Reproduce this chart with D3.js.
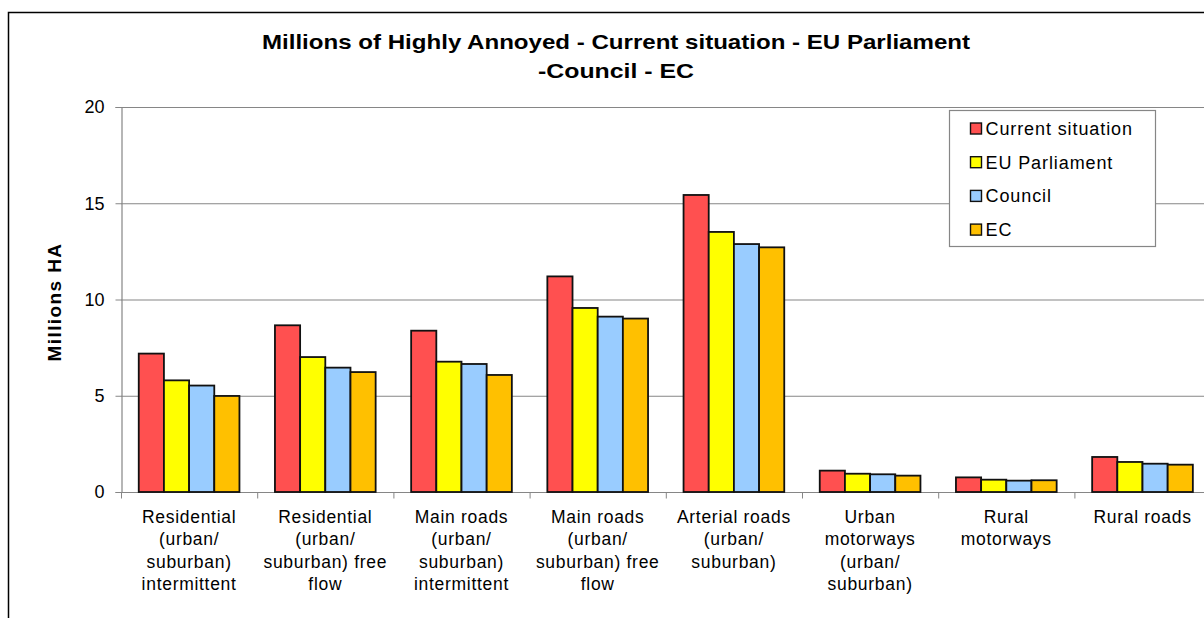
<!DOCTYPE html>
<html>
<head>
<meta charset="utf-8">
<script src="https://cdn.jsdelivr.net/npm/d3@7"></script>
<style>
body { margin: 0; background: #fff; }
svg { display: block; font-family: "Liberation Sans", Arial, sans-serif; }
</style>
</head>
<body>
<div id="target"></div>
<script>
var width = 1204,
    height = 618;

var categories = [
    ['Residential', '(urban/', 'suburban)', 'intermittent'],
    ['Residential', '(urban/', 'suburban) free', 'flow'],
    ['Main roads', '(urban/', 'suburban)', 'intermittent'],
    ['Main roads', '(urban/', 'suburban) free', 'flow'],
    ['Arterial roads', '(urban/', 'suburban)'],
    ['Urban', 'motorways', '(urban/', 'suburban)'],
    ['Rural', 'motorways'],
    ['Rural roads']
];
var seriesNames = ['Current situation', 'EU Parliament', 'Council', 'EC'];
var seriesColors = ['#FF5050', '#FFFF00', '#99CCFF', '#FFC000'];

var currentSituation = [7.19, 8.66, 8.38, 11.2, 15.43, 1.11, 0.76, 1.82];
var euParliament     = [5.80, 7.01, 6.77, 9.56, 13.51, 0.95, 0.64, 1.56];
var council          = [5.53, 6.46, 6.65, 9.11, 12.88, 0.92, 0.59, 1.47];
var ec               = [4.99, 6.23, 6.08, 9.01, 12.71, 0.85, 0.61, 1.42];
var seriesValues = [currentSituation, euParliament, council, ec];

var yTicks = [0, 5, 10, 15, 20];

var plotLeft = 121, plotTop = 107, plotBottom = 492, bandW = 136.2;

var svg = d3.select('#target').append('svg')
    .attr('width', width)
    .attr('height', height);

// outer chart border (right / bottom fall outside the picture)
svg.append('rect')
    .attr('x', 8.5).attr('y', 12.5)
    .attr('width', 1300).attr('height', 700)
    .attr('fill', '#fff')
    .attr('stroke', '#000')
    .attr('stroke-width', 1.5);

var xScale = d3.scaleBand()
    .domain(d3.range(categories.length))
    .range([plotLeft, plotLeft + bandW * categories.length])
    .padding(0);

var xInner = d3.scaleBand()
    .domain(d3.range(seriesNames.length))
    .range([17.75, bandW - 17.75]);

var yScale = d3.scaleLinear().domain([0, 20]).range([plotBottom, plotTop]);

// gridlines
svg.append('g').selectAll('line')
    .data(yTicks.filter(function(d) { return d > 0; }))
    .enter().append('line')
    .attr('x1', plotLeft).attr('x2', width)
    .attr('y1', function(d) { return yScale(d) + 0.5; })
    .attr('y2', function(d) { return yScale(d) + 0.5; })
    .attr('stroke', '#868686')
    .attr('stroke-width', 1.2);

// y axis
var yAxis = svg.append('g')
    .attr('transform', 'translate(' + (plotLeft + 0.5) + ',0)')
    .call(d3.axisLeft(yScale).tickValues(yTicks).tickSize(6).tickPadding(11));
yAxis.select('.domain').attr('stroke', '#868686').attr('stroke-width', 1.2);
yAxis.selectAll('.tick line').attr('stroke', '#868686');
yAxis.selectAll('.tick text')
    .attr('font-size', 18)
    .attr('font-family', '"Liberation Sans", Arial, sans-serif')
    .attr('fill', '#000');

// x axis
var xAxis = svg.append('g')
    .attr('transform', 'translate(0,' + (plotBottom + 0.5) + ')');
xAxis.append('line')
    .attr('x1', plotLeft).attr('x2', width)
    .attr('stroke', '#868686').attr('stroke-width', 1.2);
xAxis.selectAll('.tk')
    .data(d3.range(categories.length + 1))
    .enter().append('line')
    .attr('class', 'tk')
    .attr('x1', function(d) { return plotLeft + d * xScale.bandwidth() + 0.5; })
    .attr('x2', function(d) { return plotLeft + d * xScale.bandwidth() + 0.5; })
    .attr('y1', 0).attr('y2', 6)
    .attr('stroke', '#868686');

var labels = xAxis.selectAll('.lbl')
    .data(categories)
    .enter().append('text')
    .attr('class', 'lbl')
    .attr('text-anchor', 'middle')
    .attr('font-size', 17.5)
    .attr('letter-spacing', 0.7)
    .attr('fill', '#000')
    .attr('transform', function(d, i) {
        return 'translate(' + (xScale(i) + xScale.bandwidth() / 2) + ',30)';
    });
labels.selectAll('tspan')
    .data(function(d) { return d; })
    .enter().append('tspan')
    .attr('x', 0)
    .attr('y', function(d, i) { return i * 22.6; })
    .text(function(d) { return d; });

// bars
var groups = svg.append('g').selectAll('g')
    .data(categories)
    .enter().append('g')
    .attr('transform', function(d, i) { return 'translate(' + xScale(i) + ',0)'; });

groups.selectAll('rect')
    .data(function(d, i) {
        return seriesValues.map(function(s, j) { return {s: j, v: s[i]}; });
    })
    .enter().append('rect')
    .attr('x', function(d) { return xInner(d.s); })
    .attr('width', xInner.bandwidth())
    .attr('y', function(d) { return yScale(d.v); })
    .attr('height', function(d) { return plotBottom - yScale(d.v); })
    .attr('fill', function(d) { return seriesColors[d.s]; })
    .attr('stroke', '#111')
    .attr('stroke-width', 1.8);

// y title
svg.append('text')
    .attr('transform', 'translate(61,302) rotate(-90)')
    .attr('text-anchor', 'middle')
    .attr('font-size', 19)
    .attr('font-weight', 'bold')
    .attr('letter-spacing', 1.4)
    .text('Millions HA');

// title
svg.append('text')
    .attr('x', 616).attr('y', 49)
    .attr('text-anchor', 'middle')
    .attr('font-size', 21)
    .attr('font-weight', 'bold')
    .attr('textLength', 708)
    .attr('lengthAdjust', 'spacingAndGlyphs')
    .text('Millions of Highly Annoyed  - Current situation - EU Parliament');
svg.append('text')
    .attr('x', 616).attr('y', 78)
    .attr('text-anchor', 'middle')
    .attr('font-size', 21)
    .attr('font-weight', 'bold')
    .attr('textLength', 156)
    .attr('lengthAdjust', 'spacingAndGlyphs')
    .text('-Council - EC');

// legend
var legend = svg.append('g').attr('transform', 'translate(949.5,110.5)');
legend.append('rect')
    .attr('width', 206).attr('height', 136)
    .attr('fill', '#fff')
    .attr('stroke', '#868686')
    .attr('stroke-width', 1.2);
var items = legend.selectAll('.item')
    .data(seriesNames)
    .enter().append('g')
    .attr('class', 'item')
    .attr('transform', function(d, i) { return 'translate(21,' + (18 + i * 33.7) + ')'; });
items.append('rect')
    .attr('x', 0).attr('y', -5.5)
    .attr('width', 11).attr('height', 11)
    .attr('fill', function(d, i) { return seriesColors[i]; })
    .attr('stroke', '#111')
    .attr('stroke-width', 1.4);
items.append('text')
    .attr('x', 15).attr('y', 6.5)
    .attr('font-size', 18)
    .attr('letter-spacing', 0.9)
    .text(function(d) { return d; });
</script>
</body>
</html>
